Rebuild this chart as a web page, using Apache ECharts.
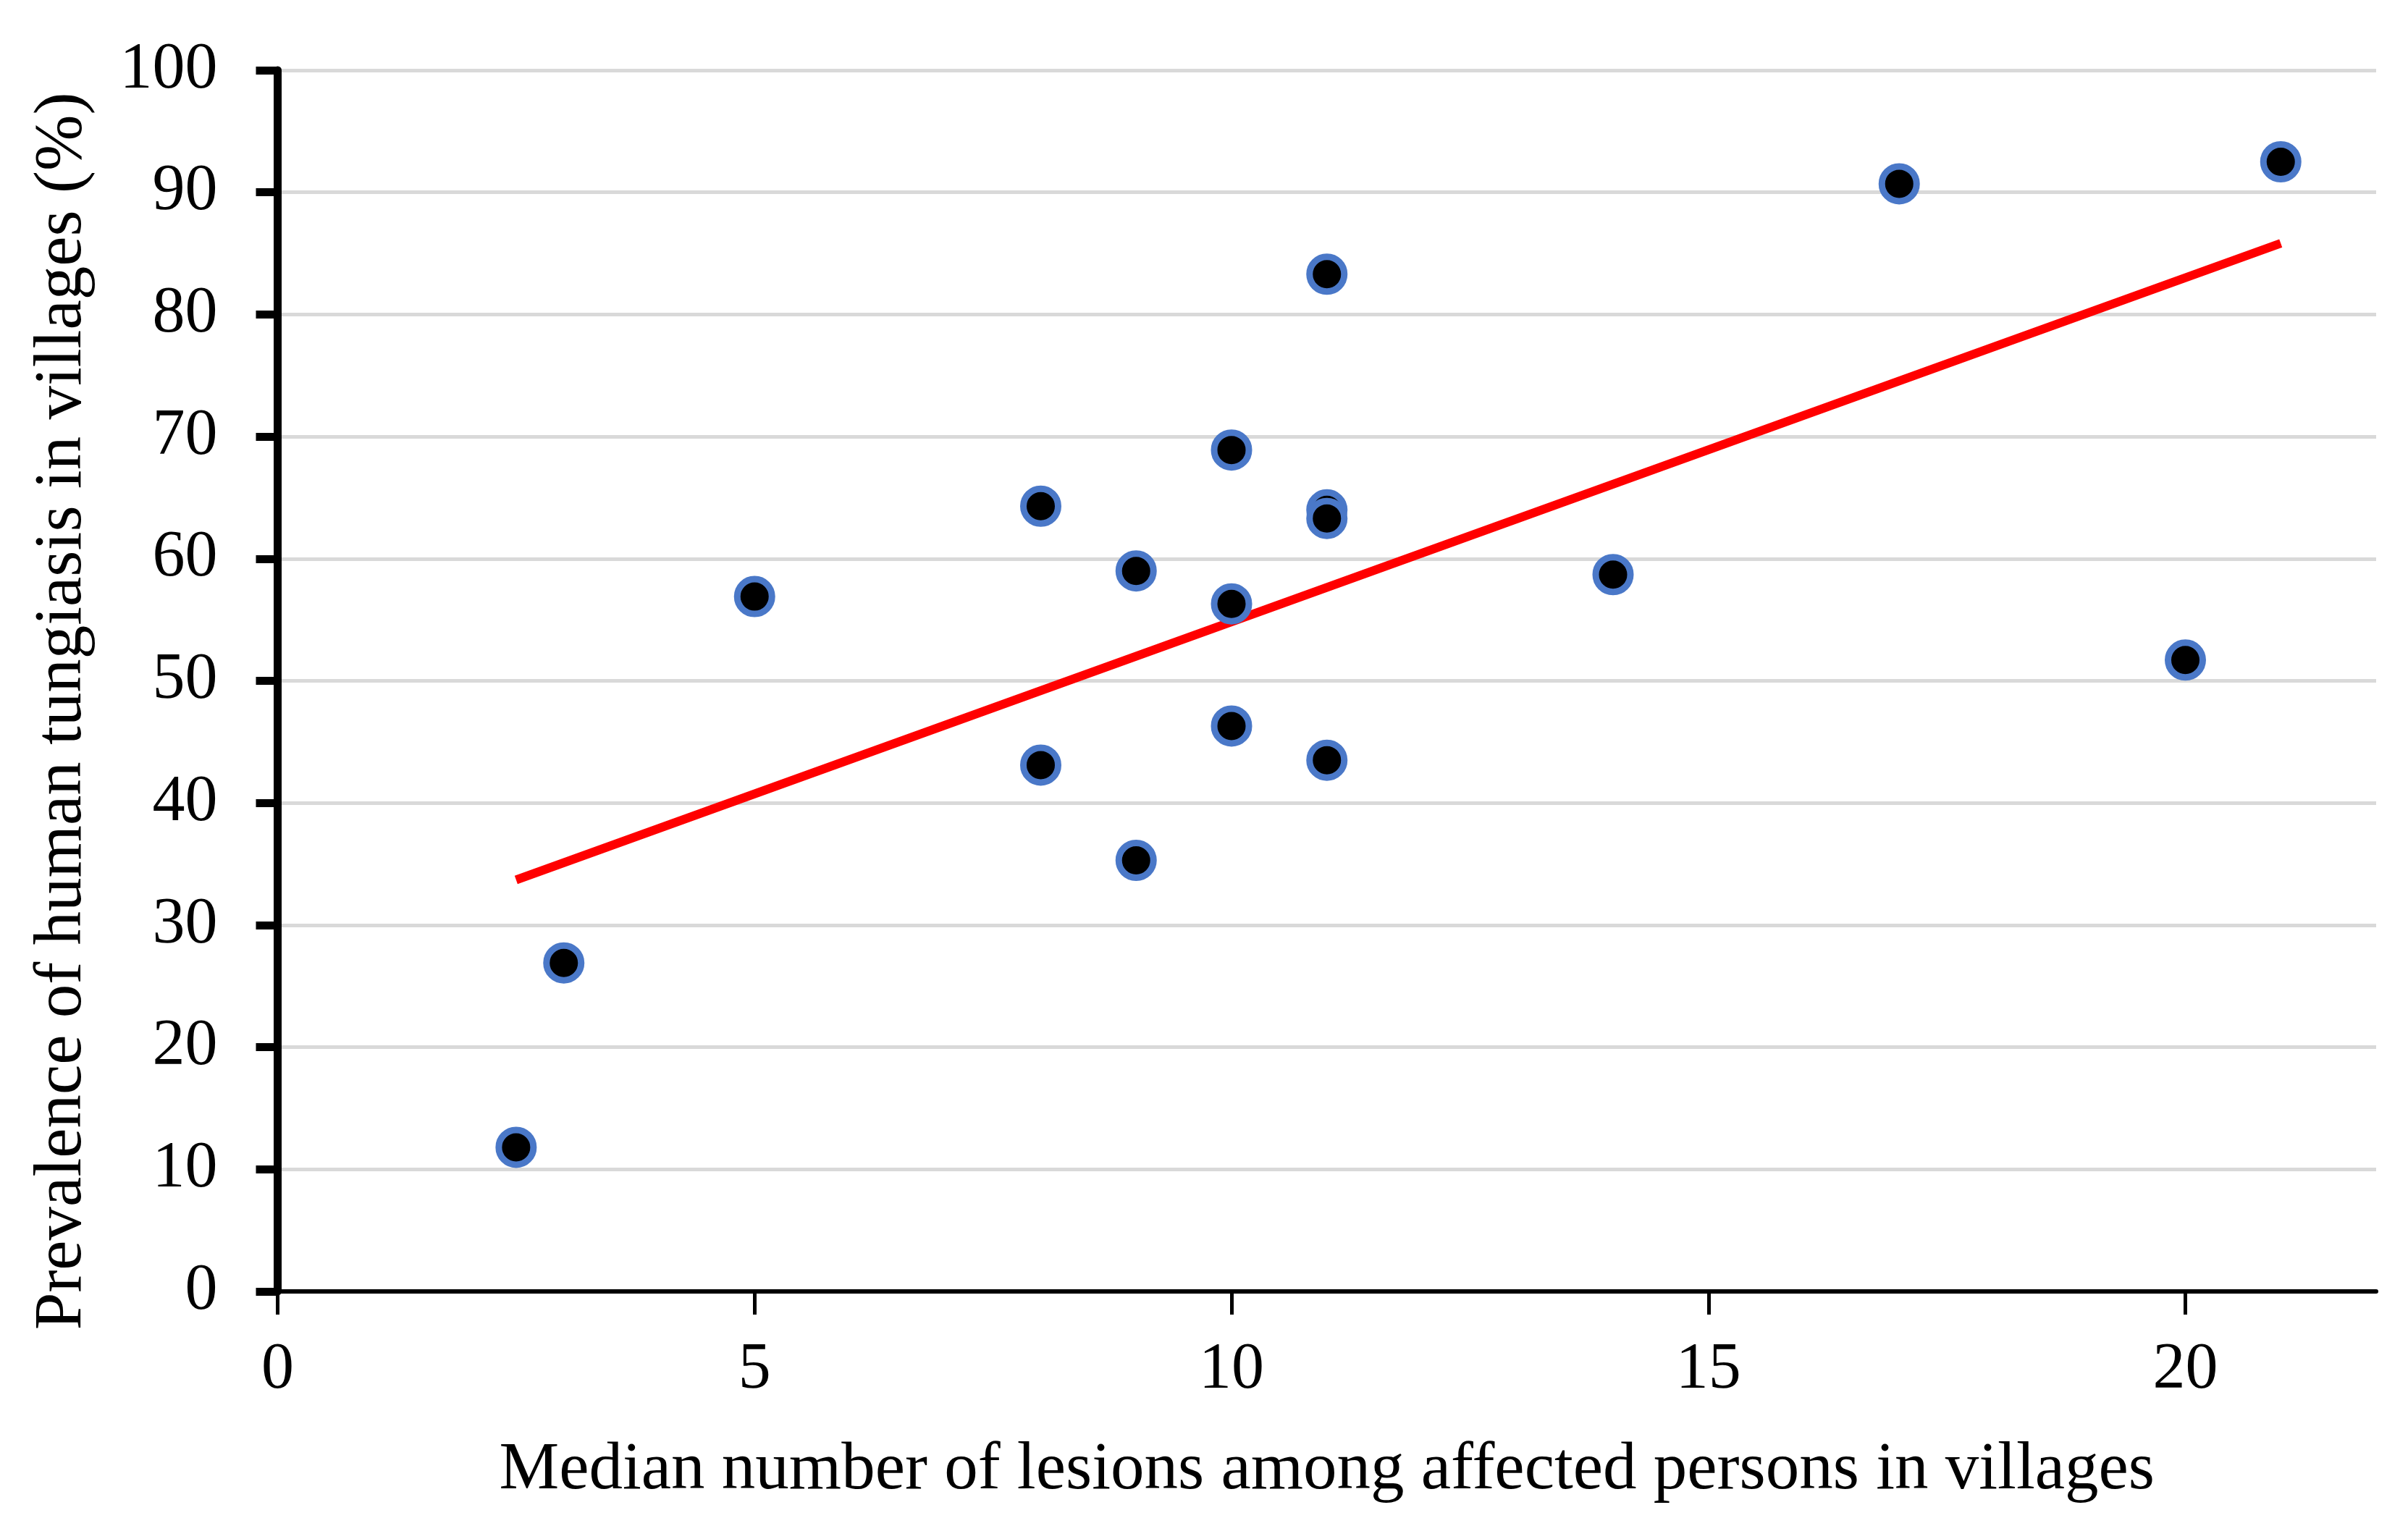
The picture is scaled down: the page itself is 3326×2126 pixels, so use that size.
<!DOCTYPE html>
<html>
<head>
<meta charset="utf-8">
<script src="https://cdn.jsdelivr.net/npm/echarts@6/dist/echarts.min.js"></script>
<style>
  html, body { margin: 0; padding: 0; background: #ffffff; }
  #chart { width: 3326px; height: 2126px; }
</style>
</head>
<body>
<div id="chart"></div>
<script>
// Data
const lesionsMedian = [2.5, 3, 5, 8, 8, 9, 9, 10, 10, 10, 11, 11, 11, 11, 14, 17, 20, 21];
const prevalence    = [11.8, 26.9, 56.9, 64.3, 43.1, 59.0, 35.3, 68.9, 56.3, 46.3, 83.3, 64.0, 63.3, 43.5, 58.7, 90.7, 51.7, 92.5];
const xTickValues = [0, 5, 10, 15, 20];
const yTickValues = [0, 10, 20, 30, 40, 50, 60, 70, 80, 90, 100];
const xAxisTitle = 'Median number of lesions among affected persons in villages';
const yAxisTitle = 'Prevalence of human tungiasis in villages (%)';

// Linear least-squares trend line (computed from the data)
function linearFit(xs, ys) {
  const n = xs.length;
  const mx = xs.reduce((a, b) => a + b, 0) / n;
  const my = ys.reduce((a, b) => a + b, 0) / n;
  let sxy = 0, sxx = 0;
  for (let i = 0; i < n; i++) {
    sxy += (xs[i] - mx) * (ys[i] - my);
    sxx += (xs[i] - mx) * (xs[i] - mx);
  }
  const slope = sxy / sxx;
  return { slope: slope, intercept: my - slope * mx };
}
const fit = linearFit(lesionsMedian, prevalence);
const xMinData = Math.min.apply(null, lesionsMedian);
const xMaxData = Math.max.apply(null, lesionsMedian);
const trendPoints = [
  [xMinData, fit.intercept + fit.slope * xMinData],
  [xMaxData, fit.intercept + fit.slope * xMaxData]
];
const scatterPoints = lesionsMedian.map((x, i) => [x, prevalence[i]]);

const FONT = '"Liberation Serif", "Times New Roman", serif';

const chart = echarts.init(document.getElementById('chart'), null, { renderer: 'canvas' });
chart.setOption({
  backgroundColor: '#ffffff',
  animation: false,
  grid: { left: 383.5, right: 44, top: 97, bottom: 342, containLabel: false },
  xAxis: {
    type: 'value',
    min: 0,
    max: 22,
    interval: 5,
    name: xAxisTitle,
    nameLocation: 'middle',
    nameGap: 201,
    nameTextStyle: { fontFamily: FONT, fontSize: 93, color: '#000000' },
    axisLine: { show: true, onZero: false, lineStyle: { color: '#000000', width: 6 } },
    axisTick: { show: true, length: 32, lineStyle: { color: '#000000', width: 5 }, customValues: xTickValues },
    axisLabel: { fontFamily: FONT, fontSize: 90, color: '#000000', margin: 64, customValues: xTickValues },
    splitLine: { show: false }
  },
  yAxis: {
    type: 'value',
    min: 0,
    max: 100,
    interval: 10,
    name: yAxisTitle,
    nameLocation: 'middle',
    nameGap: 250,
    nameRotate: 90,
    nameTextStyle: { fontFamily: FONT, fontSize: 93, color: '#000000', padding: [0, 84, 0, 0] },
    axisLine: { show: true, onZero: false, lineStyle: { color: '#000000', width: 11 } },
    axisTick: { show: true, length: 30, lineStyle: { color: '#000000', width: 11 }, customValues: yTickValues },
    axisLabel: { fontFamily: FONT, fontSize: 90, color: '#000000', margin: 83, customValues: yTickValues },
    splitLine: { show: true, lineStyle: { color: '#d9d9d9', width: 5 } }
  },
  series: [
    {
      name: 'Trend',
      type: 'line',
      data: trendPoints,
      showSymbol: false,
      symbol: 'none',
      lineStyle: { color: '#ff0000', width: 12 },
      z: 2,
      silent: true
    },
    {
      name: 'Villages',
      type: 'scatter',
      data: scatterPoints,
      symbol: 'circle',
      symbolSize: 48,
      itemStyle: { color: '#000000', borderColor: '#4a78c8', borderWidth: 9, opacity: 1 },
      z: 3
    }
  ]
});
</script>
</body>
</html>
